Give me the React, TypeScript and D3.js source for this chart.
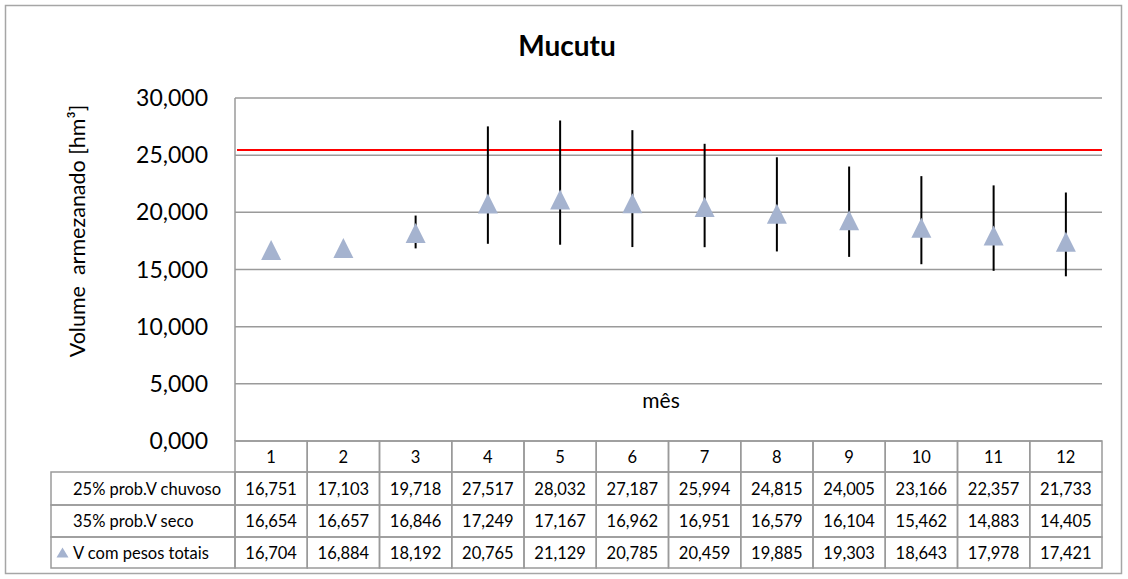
import React, { useEffect, useRef } from 'react';
import * as d3 from 'd3';

const months = ['1', '2', '3', '4', '5', '6', '7', '8', '9', '10', '11', '12'];
const chuvoso = [16.751, 17.103, 19.718, 27.517, 28.032, 27.187, 25.994, 24.815, 24.005, 23.166, 22.357, 21.733];
const seco = [16.654, 16.657, 16.846, 17.249, 17.167, 16.962, 16.951, 16.579, 16.104, 15.462, 14.883, 14.405];
const pesosTotais = [16.704, 16.884, 18.192, 20.765, 21.129, 20.785, 20.459, 19.885, 19.303, 18.643, 17.978, 17.421];
const rowLabels = ['25% prob.V chuvoso', '35% prob.V seco', 'V com pesos totais'];
const yTicks = [0, 5, 10, 15, 20, 25, 30];
const limite = 25.45;

const fmt = (v: number) => v.toFixed(3).replace('.', ',');

// triangle marker centred on the point
const triPath = (w: number, h: number) => {
  const p = d3.path();
  p.moveTo(0, -h / 2);
  p.lineTo(w / 2, h / 2);
  p.lineTo(-w / 2, h / 2);
  p.closePath();
  return p.toString();
};

const App: React.FC = () => {
  const chartRef = useRef<SVGSVGElement>(null);

  useEffect(() => {
    const W = 1128;
    const H = 579;
    const plot = { left: 235, right: 1102, top: 98, bottom: 441 };
    const font = 'Lato, "Open Sans", sans-serif';
    const gridColor = '#9a9a9a';
    const markerColor = '#a5b3cf';

    const svg = d3.select(chartRef.current);
    svg.selectAll('*').remove();
    svg.attr('width', W).attr('height', H).style('display', 'block');

    svg.append('rect').attr('width', W).attr('height', H).attr('fill', '#fff');

    // outer frame
    svg
      .append('rect')
      .attr('x', 5.5)
      .attr('y', 5.5)
      .attr('width', 1116)
      .attr('height', 568)
      .attr('fill', 'none')
      .attr('stroke', '#a6a6a6')
      .attr('stroke-width', 1.5);

    const x = d3.scaleBand<string>().domain(months).range([plot.left, plot.right]);
    const y = d3.scaleLinear().domain([0, 30]).range([plot.bottom, plot.top]);

    // title
    svg
      .append('text')
      .attr('x', 567)
      .attr('y', 56)
      .attr('text-anchor', 'middle')
      .attr('font-family', font)
      .attr('font-weight', 'bold')
      .attr('font-size', 28)
      .text('Mucutu');

    // gridlines
    svg
      .append('g')
      .selectAll('line')
      .data(yTicks)
      .join('line')
      .attr('x1', plot.left)
      .attr('x2', plot.right)
      .attr('y1', (d) => y(d))
      .attr('y2', (d) => y(d))
      .attr('stroke', gridColor)
      .attr('stroke-width', 1.5);

    // plot border (left side)
    svg
      .append('line')
      .attr('x1', plot.left)
      .attr('x2', plot.left)
      .attr('y1', plot.top)
      .attr('y2', plot.bottom)
      .attr('stroke', gridColor)
      .attr('stroke-width', 1.5);

    // y tick labels
    svg
      .append('g')
      .selectAll('text')
      .data(yTicks)
      .join('text')
      .attr('x', 208)
      .attr('y', (d) => y(d) + 8)
      .attr('text-anchor', 'end')
      .attr('font-family', font)
      .attr('font-size', 23)
      .text((d) => fmt(d));

    // y axis title
    svg
      .append('text')
      .attr('transform', 'translate(85,231) rotate(-90)')
      .attr('text-anchor', 'middle')
      .attr('font-family', font)
      .attr('font-size', 21.5)
      .attr('xml:space', 'preserve')
      .text('Volume  armezanado [hm³]');

    // x axis title, inside the plot
    svg
      .append('text')
      .attr('x', 661)
      .attr('y', 408)
      .attr('text-anchor', 'middle')
      .attr('font-family', font)
      .attr('font-size', 21)
      .text('mês');

    // red limit line
    svg
      .append('line')
      .attr('x1', plot.left + 2)
      .attr('x2', plot.right)
      .attr('y1', y(limite))
      .attr('y2', y(limite))
      .attr('stroke', '#ff0000')
      .attr('stroke-width', 2);

    const cx = (m: string) => (x(m) as number) + x.bandwidth() / 2;

    // range bars (seco .. chuvoso)
    svg
      .append('g')
      .selectAll('line')
      .data(months)
      .join('line')
      .attr('x1', (d) => cx(d))
      .attr('x2', (d) => cx(d))
      .attr('y1', (_, i) => y(chuvoso[i]))
      .attr('y2', (_, i) => y(seco[i]))
      .attr('stroke', '#000')
      .attr('stroke-width', 2);

    svg
      .append('g')
      .selectAll('path')
      .data(months)
      .join('path')
      .attr('d', triPath(20, 20))
      .attr('transform', (d, i) => `translate(${cx(d)},${y(pesosTotais[i])})`)
      .attr('fill', markerColor);

    // data table
    const rowTops = [441, 472, 505, 537, 568];
    const tableLeft = 51;
    const tbl = svg.append('g').attr('font-family', font).attr('font-size', 16.5);

    // category row
    months.forEach((m) => {
      tbl
        .append('rect')
        .attr('x', x(m) as number)
        .attr('y', rowTops[0])
        .attr('width', x.bandwidth())
        .attr('height', rowTops[1] - rowTops[0])
        .attr('fill', 'none')
        .attr('stroke', gridColor)
        .attr('stroke-width', 1.5);
      tbl
        .append('text')
        .attr('x', cx(m))
        .attr('y', rowTops[0] + 22)
        .attr('text-anchor', 'middle')
        .text(m);
    });

    const rows = [chuvoso, seco, pesosTotais];
    rows.forEach((vals, r) => {
      const top = rowTops[r + 1];
      const h = rowTops[r + 2] - top;
      tbl
        .append('rect')
        .attr('x', tableLeft)
        .attr('y', top)
        .attr('width', plot.left - tableLeft)
        .attr('height', h)
        .attr('fill', 'none')
        .attr('stroke', gridColor)
        .attr('stroke-width', 1.5);
      tbl
        .append('text')
        .attr('x', 73)
        .attr('y', top + h / 2 + 6)
        .text(rowLabels[r]);
      months.forEach((m, i) => {
        tbl
          .append('rect')
          .attr('x', x(m) as number)
          .attr('y', top)
          .attr('width', x.bandwidth())
          .attr('height', h)
          .attr('fill', 'none')
          .attr('stroke', gridColor)
          .attr('stroke-width', 1.5);
        tbl
          .append('text')
          .attr('x', cx(m))
          .attr('y', top + h / 2 + 6)
          .attr('text-anchor', 'middle')
          .text(fmt(vals[i]));
      });
    });

    // legend marker in the last row
    tbl
      .append('path')
      .attr('d', triPath(12, 10))
      .attr('transform', `translate(62.5,${(rowTops[3] + rowTops[4]) / 2})`)
      .attr('fill', markerColor);
  }, []);

  return <svg ref={chartRef} style={{ position: 'absolute', left: 0, top: 0 }}></svg>;
};

export default App;
